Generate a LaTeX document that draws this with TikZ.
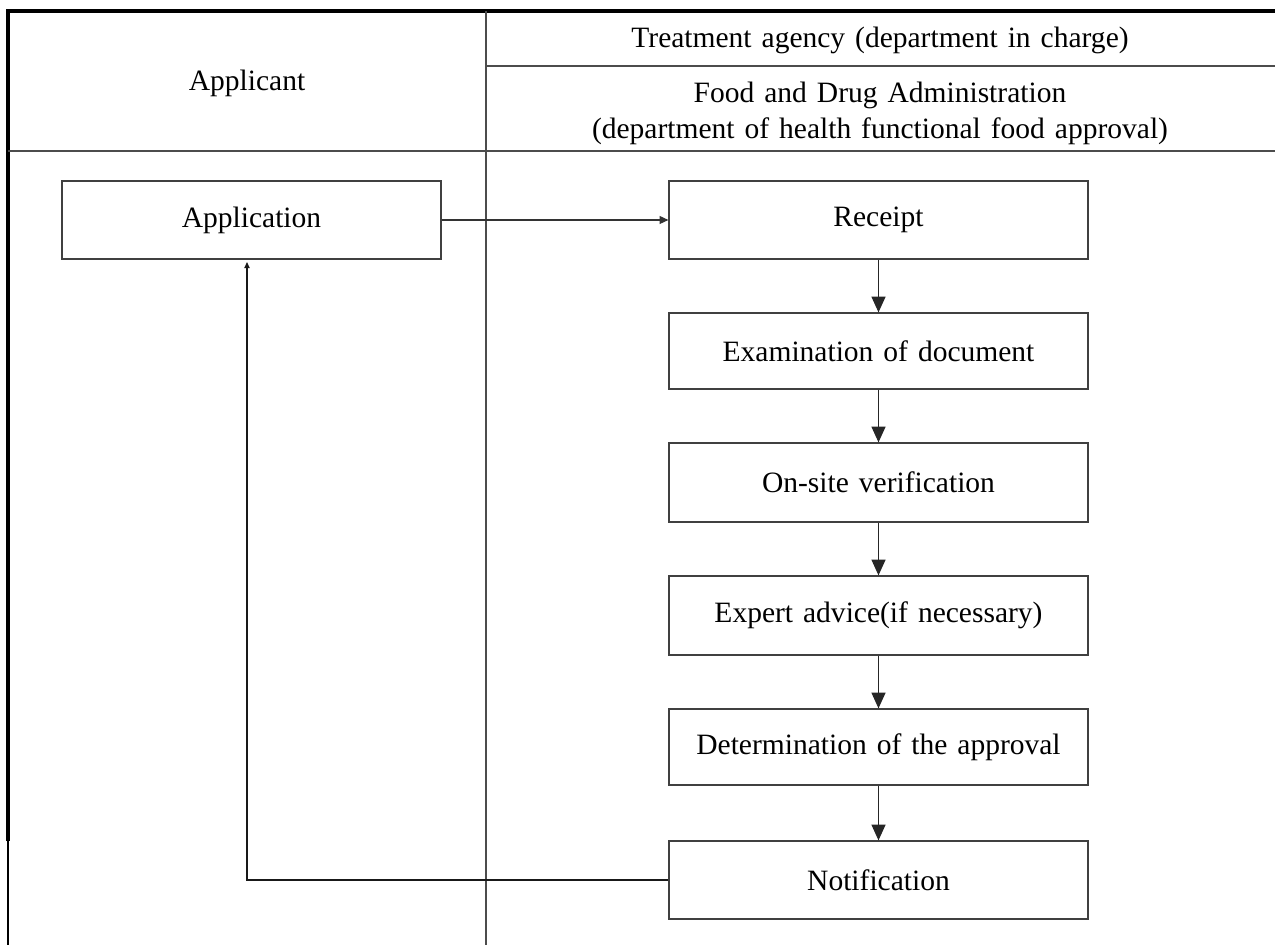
\documentclass[tikz,border=0pt]{standalone}
\usepackage{fontspec}
\setmainfont[WordSpace=1.35]{Liberation Serif}
\usetikzlibrary{arrows.meta}
\begin{document}
\begin{tikzpicture}[x=0.02cm,y=-0.02cm,
  rule/.style={draw=black!70,line width=0.7pt},
  frame/.style={draw=black,line width=1.8pt},
  stepbox/.style={draw=black!75,line width=0.7pt,minimum width=8.38cm,
    minimum height=1.56cm,inner sep=0pt,anchor=center},
  label/.style={inner sep=0pt,anchor=center},
  flow/.style={draw=black!85,line width=0.7pt,-{Triangle[length=9pt,width=8pt]}},
  feed/.style={draw=black!80,line width=0.7pt,-{Triangle[length=5pt,width=4.5pt]}},
  back/.style={draw=black!90,line width=0.7pt,-{Triangle[length=3.5pt,width=3pt]}},
  font=\fontsize{16.8}{20}\selectfont]
\useasboundingbox (0,0) rectangle (1275,945);

% table frame and rules
\draw[frame] (8,841) -- (8,11) -- (1275,11);
\draw[draw=black,line width=1.2pt] (8,841) -- (8,945);
\draw[rule] (486,11) -- (486,945);
\draw[rule] (486,66) -- (1275,66);
\draw[rule] (8,151) -- (1275,151);

% header texts
\node[label] (hApplicant) at (247,83) {Applicant};
\node[label] (hAgency) at (880,40) {Treatment agency (department in charge)};
\node[label] (hFDA) at (880,95) {Food and Drug Administration};
\node[label] (hDept) at (880,131) {(department of health functional food approval)};

% process boxes
\node[stepbox,minimum width=7.58cm] (app) at (251.5,220) {Application};
\node[stepbox] (receipt) at (878.5,220) {Receipt};
\node[stepbox,minimum height=1.52cm] (exam) at (878.5,351) {Examination of document};
\node[stepbox,minimum height=1.58cm] (site) at (878.5,482.5) {On-site verification};
\node[stepbox,minimum height=1.58cm] (expert) at (878.5,615.5) {Expert advice(if necessary)};
\node[stepbox,minimum height=1.52cm] (decide) at (878.5,747) {Determination of the approval};
\node[stepbox] (notify) at (878.5,880) {Notification};

% connectors
\draw[feed] (app.east) -- (receipt.west);
\draw[flow] (receipt) -- (exam);
\draw[flow] (exam) -- (site);
\draw[flow] (site) -- (expert);
\draw[flow] (expert) -- (decide);
\draw[flow] (decide) -- (notify);
\coordinate (turn) at (247,880);
\coordinate (tip) at (247,262);
\draw[back] (notify.west) -- (turn) -- (tip);
\end{tikzpicture}
\end{document}
